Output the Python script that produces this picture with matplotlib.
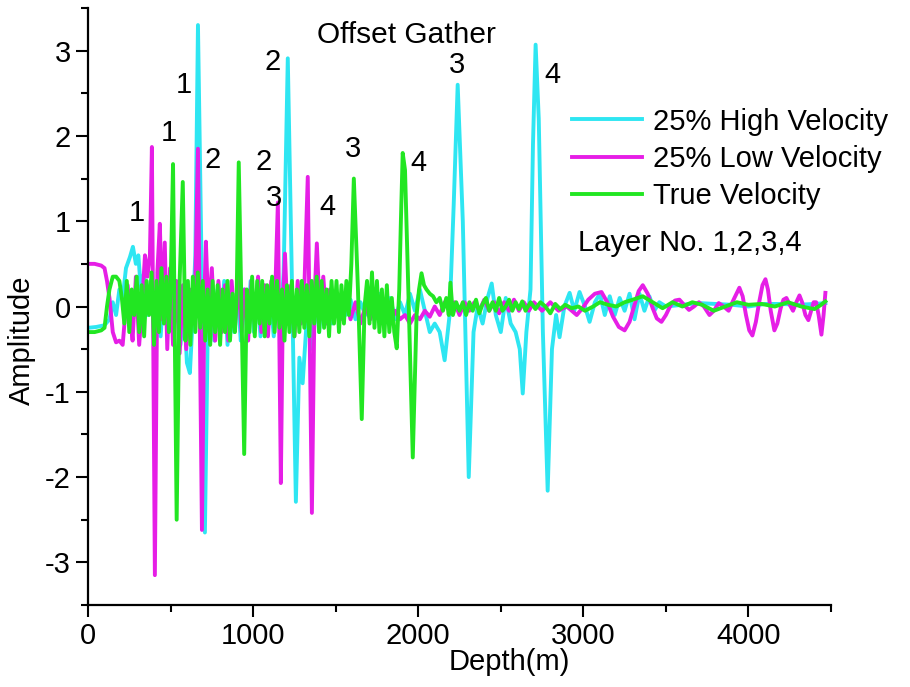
import matplotlib
matplotlib.use("Agg")
import matplotlib.pyplot as plt
from matplotlib.ticker import MultipleLocator

plt.rcParams['font.family'] = ['Liberation Sans', 'DejaVu Sans']
plt.rcParams['axes.unicode_minus'] = False

# 25% high velocity trace (depth in m, amplitude)
high_depth = [0, 50, 100, 130, 150, 170, 190, 210, 230, 254,
              272, 290, 305, 320, 340, 360, 380, 400, 420, 440,
              460, 480, 500, 520, 540, 560, 580, 599, 617, 635,
              650, 666, 690, 708, 725, 745, 765, 785, 805, 825,
              845, 865, 885, 905, 925, 945, 965, 985, 1005, 1025,
              1045, 1065, 1085, 1105, 1125, 1145, 1165, 1185, 1210, 1235,
              1259, 1280, 1300, 1320, 1340, 1360, 1380, 1400, 1420, 1440,
              1460, 1480, 1500, 1530, 1560, 1590, 1620, 1650, 1680, 1710,
              1740, 1770, 1800, 1830, 1860, 1890, 1920, 1950, 1980, 2010,
              2040, 2070, 2100, 2130, 2160, 2190, 2215, 2239, 2270, 2306,
              2335, 2360, 2390, 2420, 2445, 2470, 2500, 2530, 2560, 2590,
              2615, 2633, 2655, 2680, 2695, 2711, 2730, 2755, 2784, 2810,
              2835, 2856, 2885, 2917, 2945, 2977, 3010, 3038, 3070, 3100,
              3130, 3160, 3190, 3220, 3250, 3280, 3310, 3340, 3370, 3400,
              3430, 3460, 3500, 3600, 3700, 3800, 3900, 4000, 4100, 4200,
              4300, 4400, 4466]
high_amp = [-0.25, -0.24, -0.22, -0.15, 0.05, -0.1, 0.2, 0.1, 0.45, 0.58,
            0.70, 0.5, 0.6, 0.2, 0.4, -0.1, 0.3, -0.3, 0.25, -0.35,
            0.3, -0.2, 0.35, -0.3, 0.2, -0.45, 0.1, -0.66, -0.78, -0.1,
            0.6, 3.30, 0.2, -2.65, -0.3, 0.3, -0.4, 0.2, -0.3, 0.3,
            -0.45, 0.15, -0.3, 0.25, -0.4, 0.2, -0.35, 0.3, -0.3, 0.15,
            -0.35, 0.2, -0.2, 0.1, -0.35, 0.15, -0.25, 0.4, 2.91, 0.3,
            -2.29, -0.6, -0.9, -0.3, 0.2, -0.5, 0.15, -0.3, 0.2, -0.15,
            0.1, -0.2, 0.05, 0.1, -0.1, 0.08, -0.15, 0.05, -0.1, 0.12,
            -0.05, 0.15, -0.1, 0.1, -0.15, 0.05, -0.1, 0.15, -0.05, 0.2,
            -0.05, -0.3, -0.2, -0.3, -0.63, -0.1, 1.2, 2.60, 1.0, -2.0,
            -0.3, 0.0, -0.2, 0.1, 0.27, -0.1, -0.3, 0.1, -0.2, -0.3,
            -0.5, -1.02, -0.3, 0.2, 1.9, 3.07, 2.2, -0.3, -2.16, -0.5,
            -0.1, -0.36, 0.0, 0.16, -0.05, 0.17, 0.0, -0.18, 0.05, 0.15,
            -0.1, 0.12, -0.1, 0.1, -0.05, 0.15, -0.15, 0.15, -0.05, 0.12,
            -0.05, 0.05, 0.0, 0.02, 0.04, 0.03, 0.02, 0.0, 0.03, 0.03,
            0.02, 0.03, 0.04]

# 25% low velocity trace
low_depth = [0, 40, 80, 100, 115, 130, 150, 170, 190, 210,
             225, 240, 255, 270, 290, 310, 330, 345, 360, 375,
             387, 405, 420, 435, 450, 465, 480, 497, 515, 535,
             555, 575, 595, 615, 635, 650, 666, 690, 705, 714,
             730, 750, 770, 790, 810, 830, 850, 870, 890, 910,
             930, 950, 970, 990, 1010, 1030, 1050, 1070, 1090, 1110,
             1130, 1150, 1168, 1180, 1193, 1210, 1230, 1250, 1270, 1290,
             1310, 1331, 1356, 1372, 1386, 1405, 1425, 1445, 1465, 1485,
             1505, 1530, 1560, 1590, 1620, 1650, 1680, 1710, 1740, 1770,
             1800, 1830, 1860, 1890, 1920, 1950, 1980, 2010, 2040, 2070,
             2100, 2130, 2160, 2190, 2220, 2250, 2280, 2310, 2340, 2370,
             2400, 2430, 2460, 2490, 2520, 2550, 2580, 2610, 2640, 2670,
             2700, 2750, 2800, 2850, 2900, 2930, 2960, 2995, 3030, 3070,
             3110, 3145, 3180, 3215, 3250, 3280, 3310, 3335, 3360, 3390,
             3420, 3445, 3473, 3500, 3530, 3555, 3582, 3610, 3640, 3670,
             3700, 3730, 3764, 3790, 3820, 3850, 3880, 3910, 3945, 3965,
             3985, 4005, 4024, 4045, 4065, 4085, 4103, 4118, 4135, 4157,
             4175, 4195, 4212, 4230, 4250, 4270, 4290, 4309, 4325, 4345,
             4363, 4380, 4395, 4410, 4425, 4442, 4455, 4466]
low_amp = [0.50, 0.50, 0.48, 0.45, 0.3, 0.1, -0.3, -0.42, -0.40, -0.45,
           -0.1, 0.25, -0.1, -0.4, 0.35, -0.45, 0.1, 0.6, 0.35, 0.6,
           1.87, -3.15, 0.4, 0.97, -0.15, 0.75, -0.5, 0.45, -0.45, 0.3,
           -0.55, 0.25, -0.5, 0.2, -0.2, 0.3, 1.85, -2.62, 0.1, 0.76,
           -0.1, 0.45, -0.4, 0.3, -0.3, 0.25, -0.4, 0.3, -0.25, 0.35,
           -0.3, 0.2, -0.4, 0.3, -0.2, 0.35, -0.3, 0.25, -0.35, 0.3,
           -0.1, 1.22, -2.07, 0.0, 0.62, -0.2, 0.25, -0.35, 0.3, -0.2,
           0.2, 1.52, -2.42, 0.1, 0.74, -0.15, 0.35, -0.2, 0.2, -0.1,
           0.15, -0.15, 0.1, -0.15, 0.05, -0.2, 0.0, -0.15, 0.05, -0.2,
           -0.05, -0.2, -0.05, -0.15, -0.1, -0.2, -0.1, -0.15, -0.05, -0.12,
           0.0, -0.1, 0.05, -0.05, 0.05, -0.1, 0.05, -0.05, 0.05, -0.05,
           0.08, -0.05, 0.05, -0.08, 0.05, -0.05, 0.08, -0.05, 0.05, -0.05,
           0.05, -0.05, 0.05, -0.05, 0.0, -0.05, -0.1, -0.02, 0.08, 0.15,
           0.17, 0.05, -0.12, -0.24, -0.28, -0.18, 0.02, 0.18, 0.25, 0.15,
           -0.02, -0.14, -0.18, -0.1, 0.02, 0.07, 0.08, 0.02, -0.04, 0.0,
           0.05, 0.0, -0.1, -0.05, 0.04, 0.0, -0.05, 0.08, 0.22, 0.12,
           -0.1, -0.28, -0.34, -0.18, 0.05, 0.25, 0.32, 0.2, -0.05, -0.28,
           -0.2, -0.02, 0.08, 0.1, 0.02, -0.05, 0.05, 0.13, 0.05, -0.1,
           -0.16, -0.05, 0.05, 0.05, -0.1, -0.33, -0.1, 0.16]

# true velocity trace
true_depth = [0, 40, 80, 100, 115, 130, 150, 170, 190, 205,
              220, 235, 250, 265, 280, 295, 310, 325, 340, 355,
              370, 385, 400, 415, 430, 445, 460, 475, 490, 500,
              515, 537, 555, 574, 590, 605, 620, 635, 650, 665,
              680, 695, 710, 725, 740, 755, 770, 785, 800, 815,
              830, 845, 860, 875, 890, 900, 913, 946, 962, 978,
              994, 1010, 1025, 1040, 1055, 1070, 1085, 1100, 1115, 1130,
              1145, 1160, 1175, 1190, 1205, 1220, 1235, 1250, 1265, 1280,
              1295, 1310, 1325, 1340, 1355, 1370, 1385, 1400, 1415, 1430,
              1445, 1460, 1475, 1490, 1505, 1520, 1535, 1550, 1565, 1580,
              1595, 1610, 1635, 1658, 1675, 1690, 1705, 1720, 1735, 1750,
              1765, 1780, 1795, 1810, 1825, 1840, 1855, 1870, 1885, 1895,
              1906, 1920, 1940, 1967, 1990, 2005, 2020, 2035, 2050, 2070,
              2090, 2110, 2130, 2150, 2170, 2185, 2195, 2210, 2230, 2250,
              2270, 2290, 2310, 2330, 2350, 2370, 2390, 2410, 2430, 2450,
              2470, 2490, 2510, 2530, 2550, 2570, 2590, 2610, 2630, 2650,
              2680, 2710, 2740, 2770, 2800, 2830, 2860, 2890, 2930, 2970,
              3010, 3060, 3100, 3150, 3200, 3250, 3300, 3360, 3420, 3480,
              3540, 3600, 3660, 3720, 3790, 3860, 3930, 4000, 4080, 4160,
              4240, 4320, 4400, 4440, 4466]
true_amp = [-0.30, -0.30, -0.28, -0.25, 0.0, 0.2, 0.35, 0.35, 0.3, 0.1,
            -0.2, 0.3, -0.3, 0.2, -0.1, 0.35, -0.3, 0.25, -0.35, 0.3,
            -0.1, 0.4, -0.45, 0.3, -0.3, 0.45, -0.2, 0.35, -0.3, 0.2,
            1.67, -2.5, 0.3, 1.46, -0.4, 0.3, -0.45, 0.35, -0.3, 0.4,
            -0.25, 0.3, -0.4, 0.2, -0.45, 0.3, -0.3, 0.25, -0.45, 0.2,
            -0.3, 0.3, -0.4, 0.15, -0.3, 0.1, 1.69, -1.73, 0.2, -0.3,
            0.35, -0.35, 0.3, -0.2, 0.3, -0.35, 0.25, -0.2, 0.35, -0.3,
            0.3, -0.25, 0.2, -0.4, 0.25, -0.3, 0.3, -0.35, 0.2, -0.3,
            0.3, -0.25, 0.25, -0.35, 0.3, -0.2, 0.35, -0.3, 0.3, -0.25,
            0.2, -0.35, 0.3, -0.2, 0.3, -0.3, 0.25, -0.2, 0.3, -0.1,
            0.5, 1.50, 0.2, -1.32, 0.0, 0.3, -0.2, 0.4, -0.25, 0.3,
            -0.3, 0.2, -0.35, 0.25, -0.3, 0.1, -0.3, -0.49, 0.2, 1.0,
            1.80, 1.6, 0.2, -1.77, -0.1, 0.2, 0.39, 0.25, 0.2, 0.15,
            0.12, 0.05, 0.1, -0.05, 0.1, -0.1, 0.28, -0.1, 0.05, -0.05,
            0.05, -0.1, 0.05, -0.05, 0.08, -0.08, 0.03, 0.1, -0.05, 0.05,
            -0.05, 0.1, -0.05, 0.0, 0.08, -0.05, 0.05, -0.03, 0.06, -0.05,
            0.05, -0.03, 0.05, 0.0, -0.08, 0.03, -0.03, 0.02, -0.02, 0.0,
            -0.05, 0.0, 0.05, 0.02, 0.0, 0.05, 0.08, 0.12, 0.05, -0.02,
            0.05, 0.0, 0.05, 0.02, -0.05, 0.0, 0.05, 0.02, 0.03, 0.0,
            0.05, 0.0, -0.03, 0.02, 0.06]

# layer number labels (depth, amplitude, text)
layer_x = [297, 490, 581, 756, 1120, 1065, 1126, 1452, 1604, 2003, 2233, 2814]
layer_y = [1.10, 2.03, 2.60, 1.72, 2.87, 1.69, 1.27, 1.17, 1.85, 1.68, 2.83, 2.71]
layer_txt = ['1', '1', '1', '2', '2', '2', '3', '4', '3', '4', '3', '4']

c_high = '#2EE6F2'
c_low = '#E61EE6'
c_true = '#22E622'

fig = plt.figure(figsize=(9.1, 6.87), dpi=100)
ax = fig.add_axes([88 / 910, 1 - 605 / 687, 743 / 910, 597 / 687])

ax.plot(high_depth, high_amp, color=c_high, lw=2.8, label='25% High Velocity')
ax.plot(low_depth, low_amp, color=c_low, lw=2.8, label='25% Low Velocity')
ax.plot(true_depth, true_amp, color=c_true, lw=2.8, label='True Velocity')

ax.set_xlim(0, 4500)
ax.set_ylim(-3.5, 3.5)
ax.xaxis.set_major_locator(MultipleLocator(1000))
ax.xaxis.set_minor_locator(MultipleLocator(500))
ax.yaxis.set_major_locator(MultipleLocator(1))
ax.yaxis.set_minor_locator(MultipleLocator(0.5))
ax.tick_params(which='major', direction='out', length=8.5, width=1.5, labelsize=21, pad=4)
ax.tick_params(which='minor', direction='out', length=5, width=1.5)
for s in ['top', 'right']:
    ax.spines[s].set_visible(False)
for s in ['left', 'bottom']:
    ax.spines[s].set_linewidth(1.6)

for x, y, t in zip(layer_x, layer_y, layer_txt):
    ax.text(x, y, t, fontsize=21, ha='center', va='center')

ax.text(1930, 3.18, 'Offset Gather', fontsize=21.5, ha='center', va='center')
ax.text(2965, 0.74, 'Layer No. 1,2,3,4', fontsize=21, ha='left', va='center')

ax.legend(loc='upper left', bbox_to_anchor=(0.652, 0.833), frameon=False,
          fontsize=21, handlelength=2.4, handletextpad=0.35, labelspacing=0.32,
          borderaxespad=0, borderpad=0)

fig.text(509 / 910, 1 - 662 / 687, 'Depth(m)', fontsize=21, ha='center', va='center')
fig.text(22 / 910, 1 - 340 / 687, 'Amplitude', fontsize=21, ha='center', va='center', rotation=90)

plt.savefig('out.png', dpi=100)
